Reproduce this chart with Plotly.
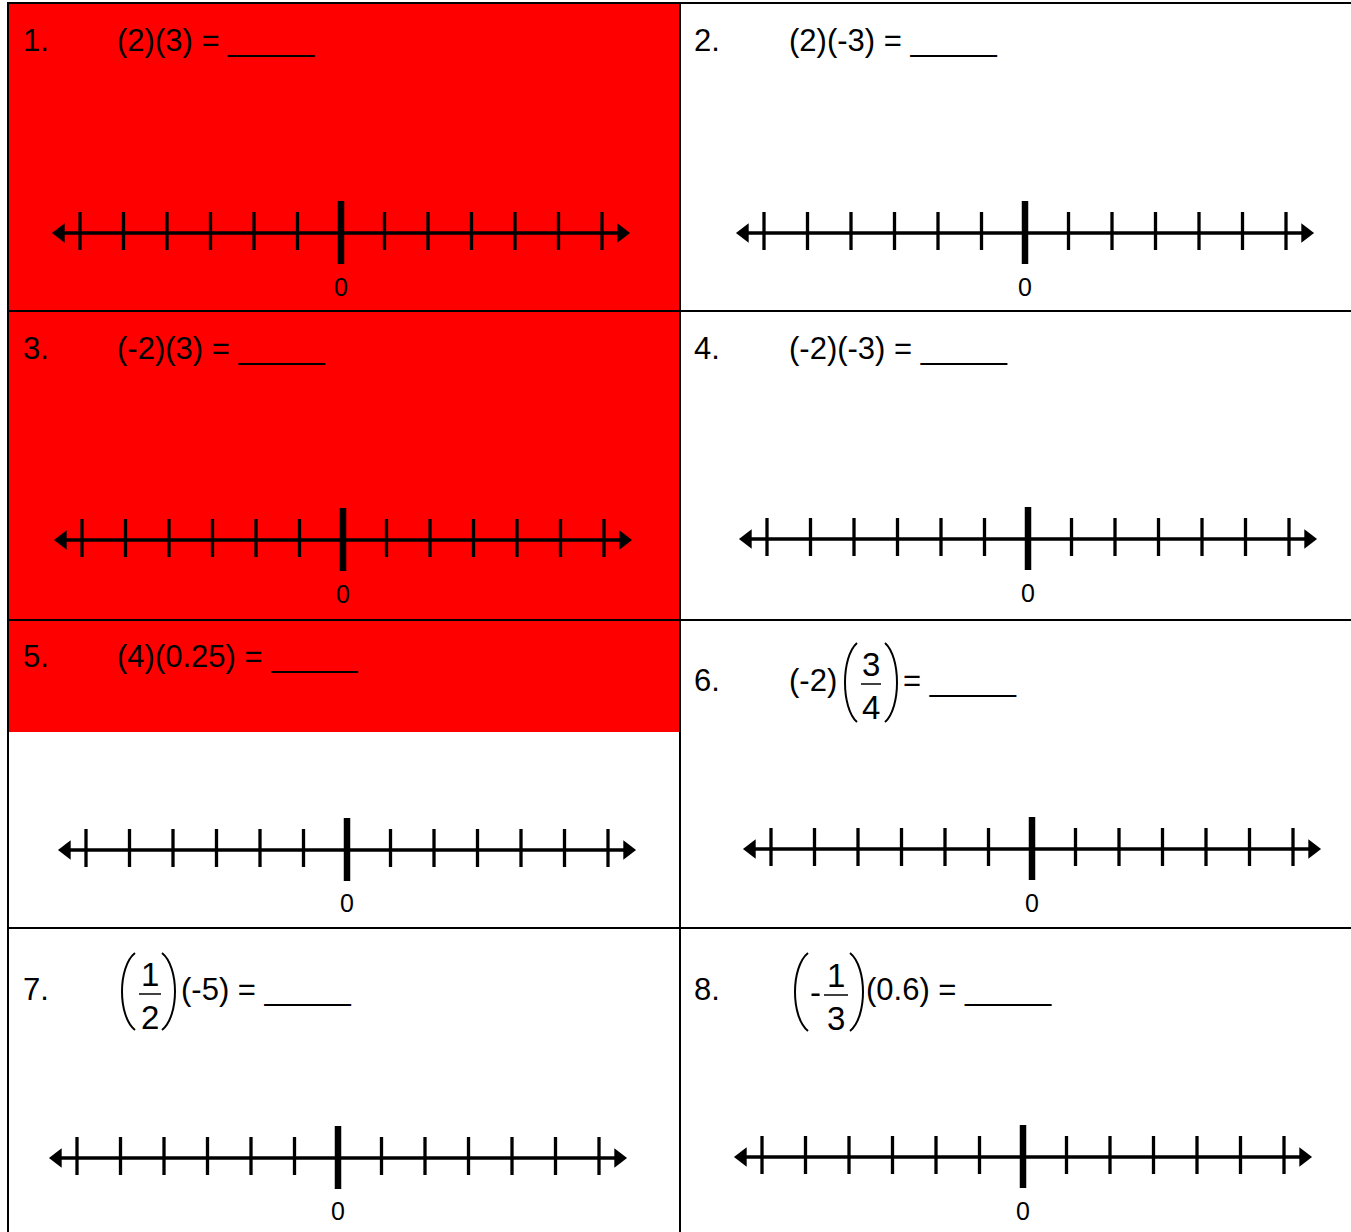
import plotly.graph_objects as go

W, H = 1351, 1232

# ---------------- data ----------------
problem_numbers = ["1.", "2.", "3.", "4.", "5.", "6.", "7.", "8."]
expressions = [
    "(2)(3) = _____",
    "(2)(-3) = _____",
    "(-2)(3) = _____",
    "(-2)(-3) = _____",
    "(4)(0.25) = _____",
    "= _____",
    "(-5) = _____",
    "(0.6) = _____",
]
prefix_6 = "(-2)"
fraction_cells = [6, 7, 8]
numerators = ["3", "1", "1"]
denominators = ["4", "2", "3"]
fraction_signs = ["", "", "-"]
tick_values = [-6, -5, -4, -3, -2, -1, 1, 2, 3, 4, 5, 6]
zero_value = [0]
zero_label = ["0"]
arrow_ends = [-6.45, 6.45]
highlighted_cells = [1, 3, 5]

# ---------------- layout helpers (pixel geometry) ----------------
UNIT = 43.5
zero_px = [341, 1025, 343, 1028, 347, 1032, 338, 1023]
line_y = [233, 233, 540, 539, 850, 849, 1158, 1157]
label_y = [287, 287, 594, 593, 903, 903, 1211, 1211]
num_x = [21, 692, 21, 692, 21, 692, 21, 692]
text_y = [40, 40, 348, 348, 656, 680, 989, 989]
expr_x = [115, 787, 115, 787, 115, 901, 179, 864]

fig = go.Figure()

BLACK = "#000000"
for k in range(8):
    ax = f"x{k+2}"
    y0 = line_y[k]
    # main line
    fig.add_trace(go.Scatter(x=arrow_ends, y=[y0, y0], mode="lines",
                             line=dict(color=BLACK, width=3.5),
                             xaxis=ax, yaxis="y", hoverinfo="skip", showlegend=False))
    # ticks
    xs, ys = [], []
    for v in tick_values:
        xs += [v, v, None]
        ys += [y0 - 21, y0 + 17, None]
    fig.add_trace(go.Scatter(x=xs, y=ys, mode="lines",
                             line=dict(color=BLACK, width=3.3),
                             xaxis=ax, yaxis="y", hoverinfo="skip", showlegend=False))
    # zero tick
    fig.add_trace(go.Scatter(x=[zero_value[0], zero_value[0]], y=[y0 - 32, y0 + 31], mode="lines",
                             line=dict(color=BLACK, width=6.5),
                             xaxis=ax, yaxis="y", hoverinfo="skip", showlegend=False))
    # arrow heads
    fig.add_trace(go.Scatter(x=arrow_ends, y=[y0, y0], mode="markers",
                             marker=dict(symbol=["triangle-left", "triangle-right"], size=17,
                                         color=BLACK, line=dict(width=0)),
                             xaxis=ax, yaxis="y", hoverinfo="skip", showlegend=False))
    # zero label
    fig.add_annotation(x=zero_value[0], y=label_y[k], xref=ax, yref="y", text=zero_label[0],
                       showarrow=False, xanchor="center", yanchor="middle",
                       font=dict(family="Arial, Liberation Sans", size=25, color=BLACK))

# ---------------- text ----------------
FONT = dict(family="Arial, Liberation Sans", size=31, color=BLACK)
for k in range(8):
    fig.add_annotation(x=num_x[k], y=text_y[k], xref="x", yref="y", text=problem_numbers[k],
                       showarrow=False, xanchor="left", yanchor="middle", font=FONT)
    fig.add_annotation(x=expr_x[k], y=text_y[k], xref="x", yref="y", text=expressions[k],
                       showarrow=False, xanchor="left", yanchor="middle", font=FONT)

fig.add_annotation(x=787, y=680, xref="x", yref="y", text=prefix_6,
                   showarrow=False, xanchor="left", yanchor="middle", font=FONT)

# fractions
frac_cx = [871, 150, 836]
frac_bar = [684, 994, 995]
frac_half = [10, 11, 12]
sign_x = [None, None, 815]
FFONT = dict(family="Arial, Liberation Sans", size=33, color=BLACK)
for i in range(3):
    cx, by = frac_cx[i], frac_bar[i]
    fig.add_annotation(x=cx, y=by - 20, xref="x", yref="y", text=numerators[i],
                       showarrow=False, xanchor="center", yanchor="middle", font=FFONT)
    fig.add_annotation(x=cx, y=by + 23, xref="x", yref="y", text=denominators[i],
                       showarrow=False, xanchor="center", yanchor="middle", font=FFONT)
    fig.add_shape(type="line", x0=cx - frac_half[i], x1=cx + frac_half[i], y0=by, y1=by,
                  xref="x", yref="y", line=dict(color=BLACK, width=1.5))
    if fraction_signs[i]:
        fig.add_annotation(x=sign_x[i], y=by - 3, xref="x", yref="y", text=fraction_signs[i],
                           showarrow=False, xanchor="center", yanchor="middle", font=FFONT)

# big parentheses (left_inner, left_outer, right_inner, right_outer, top, bottom)
parens = [
    (857, 845, 885, 897, 643, 722),
    (135, 122, 162, 175, 953, 1030),
    (808, 795, 850, 863, 953, 1031),
]


def paren_path(inner, outer, t, b):
    h = b - t
    c = inner + (outer - inner) * 4 / 3
    return f"M {inner} {t} C {c} {t + 0.18*h} {c} {b - 0.18*h} {inner} {b}"


for li, lo, ri, ro, t, b in parens:
    fig.add_shape(type="path", path=paren_path(li, lo, t, b),
                  xref="x", yref="y", line=dict(color=BLACK, width=2))
    fig.add_shape(type="path", path=paren_path(ri, ro, t, b),
                  xref="x", yref="y", line=dict(color=BLACK, width=2))

# ---------------- grid & red highlights ----------------
red_boxes = [(8, 680, 3, 311), (8, 680, 311, 620), (8, 680, 620, 732)]
for x0, x1, y0, y1 in red_boxes:
    fig.add_shape(type="rect", x0=x0, x1=x1, y0=y0, y1=y1, xref="x", yref="y",
                  fillcolor="#FF0000", line=dict(width=0), layer="below")

for yy in [3, 311, 620, 928]:
    fig.add_shape(type="line", x0=7, x1=W, y0=yy, y1=yy, xref="x", yref="y",
                  line=dict(color=BLACK, width=2), layer="below")
for xx in [8, 680]:
    fig.add_shape(type="line", x0=xx, x1=xx, y0=2, y1=H, xref="x", yref="y",
                  line=dict(color=BLACK, width=2), layer="below")

# ---------------- axes ----------------
layout_axes = {}
for k in range(8):
    z = zero_px[k]
    layout_axes[f"xaxis{k+2}"] = dict(range=[(0 - z) / UNIT, (W - z) / UNIT], overlaying="x",
                                      anchor="y", visible=False, fixedrange=True)

fig.update_layout(
    width=W, height=H,
    margin=dict(l=0, r=0, t=0, b=0),
    paper_bgcolor="white", plot_bgcolor="rgba(0,0,0,0)",
    xaxis=dict(range=[0, W], visible=False, fixedrange=True),
    yaxis=dict(range=[H, 0], visible=False, fixedrange=True),
    showlegend=False,
    **layout_axes,
)

fig.write_html("out.html", config={"displayModeBar": False},
               post_script="document.body.style.margin='0px';")
